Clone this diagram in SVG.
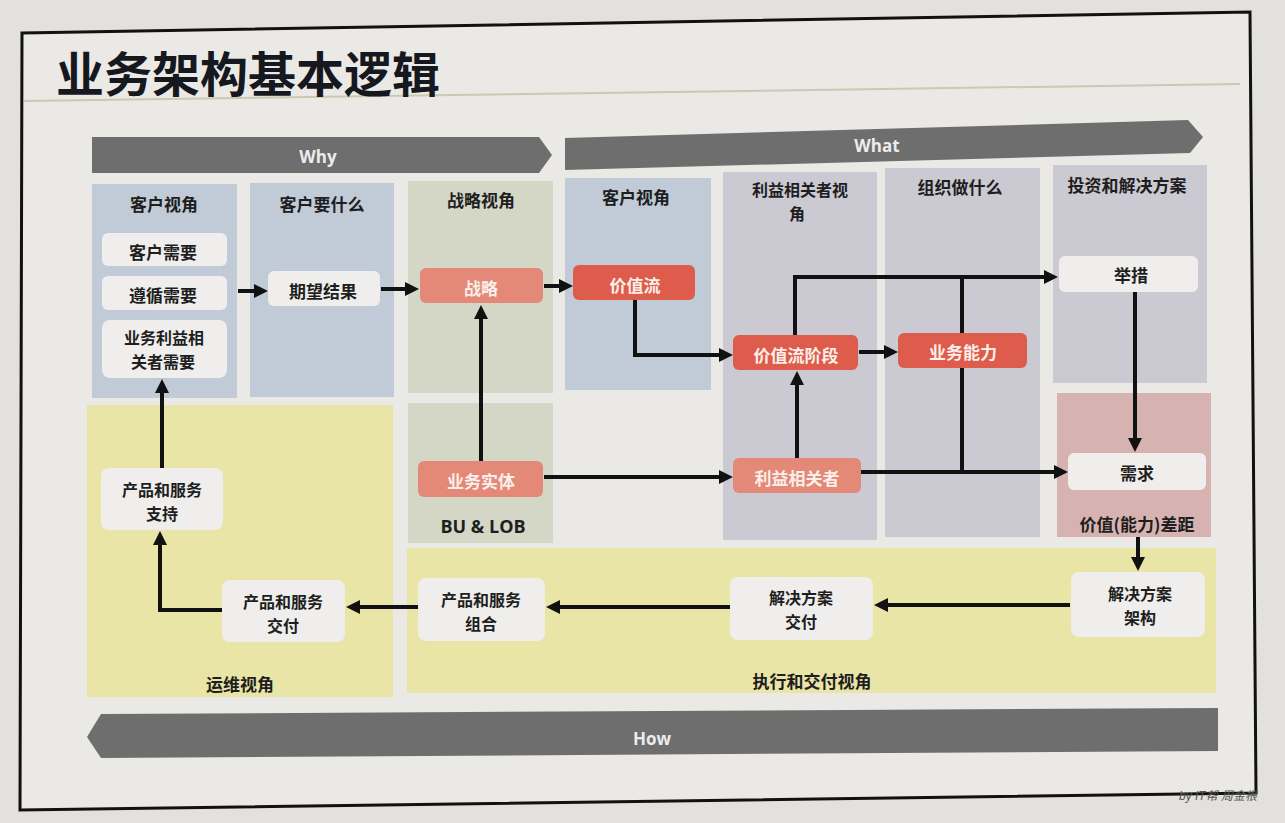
<svg xmlns="http://www.w3.org/2000/svg" width="1285" height="823" viewBox="0 0 1285 823">
<defs>
<style>
text{font-family:"Noto Sans CJK SC","Noto Sans",sans-serif;font-weight:700;text-anchor:middle;dominant-baseline:central}
.hdr{font-size:17px;fill:#1e1e1e}
.lbl{font-size:17px;fill:#1e1e1e}
.two{font-size:16px;fill:#1e1e1e}
.wl{font-size:17px;fill:#fbefe9}
.ban{font-size:17px;fill:#ececec;font-family:"Open Sans","Noto Sans",sans-serif}
.blue{fill:#c0cbd7}
.sage{fill:#d4d7c6}
.lav{fill:#cbc9d1}
.pink{fill:#d6b3b1}
.yel{fill:#e9e5a6}
.wn{fill:#efeeec}
.red{fill:#de5c4b}
.sal{fill:#e48877}
.conn{fill:none;stroke:#111;stroke-width:4;marker-end:url(#ah)}
.plain{fill:none;stroke:#111;stroke-width:4}
</style>
<marker id="ah" markerUnits="userSpaceOnUse" markerWidth="16" markerHeight="16" refX="4" refY="8" orient="auto">
<path d="M0,1 L14,8 L0,15 z" fill="#111"/>
</marker>
</defs>
<rect x="0" y="0" width="1285" height="823" fill="#e3e1de"/>
<path d="M22,33 L1250,12 L1256,793 L20,810 Z" fill="#ebe9e5" stroke="#111" stroke-width="3"/>
<path d="M24,101 L1240,84" stroke="#c9c9b4" stroke-width="2" fill="none"/>
<text x="248" y="71" style="font-size:48px;fill:#161820">业务架构基本逻辑</text>

<g id="banner-why"><polygon points="92,137 539,137 552,155 539,173 92,173" fill="#6e6e6e"/><text class="ban" x="318" y="156">Why</text></g>
<g id="banner-what"><polygon points="565,138 1188,120 1203,137 1190,153 565,170" fill="#6e6e6e"/><text class="ban" x="877" y="145">What</text></g>
<g id="banner-how"><polygon points="87,737 101,714 1218,708 1218,751 101,758" fill="#6e6e6e"/><text class="ban" x="652" y="738">How</text></g>

<g id="col-customer"><rect class="blue" x="92" y="184" width="145" height="214"/><text class="hdr" x="164" y="203">客户视角</text></g>
<g id="col-want"><rect class="blue" x="250" y="183" width="144" height="214"/><text class="hdr" x="322" y="203">客户要什么</text></g>
<g id="col-strategy"><rect class="sage" x="408" y="181" width="145" height="212"/><text class="hdr" x="481" y="199">战略视角</text></g>
<g id="col-bu"><rect class="sage" x="408" y="403" width="145" height="140"/><text x="483" y="526" style="font-size:18px;fill:#1e1e1e;font-family:'Open Sans','Noto Sans',sans-serif">BU &amp; LOB</text></g>
<g id="col-customer2"><rect class="blue" x="565" y="178" width="146" height="212"/><text class="hdr" x="636" y="196">客户视角</text></g>
<g id="col-stake"><rect class="lav" x="723" y="172" width="154" height="368"/><text class="two" x="800" y="189"><tspan x="800">利益相关者视</tspan><tspan x="797" dy="24">角</tspan></text></g>
<g id="col-org"><rect class="lav" x="885" y="168" width="155" height="369"/><text class="hdr" x="960" y="186">组织做什么</text></g>
<g id="col-invest"><rect class="lav" x="1053" y="165" width="154" height="218"/><text class="hdr" x="1127" y="184">投资和解决方案</text></g>
<g id="col-gap"><rect class="pink" x="1057" y="393" width="154" height="144"/><text class="lbl" x="1137" y="523">价值(能力)差距</text></g>
<g id="band-ops"><rect class="yel" x="87" y="405" width="306" height="292"/><text class="lbl" x="240" y="683">运维视角</text></g>
<g id="band-exec"><rect class="yel" x="407" y="548" width="809" height="145"/><text class="lbl" x="812" y="680">执行和交付视角</text></g>

<g id="n-custneed"><rect class="wn" x="102" y="233" width="125" height="33" rx="6"/><text class="lbl" x="163" y="251">客户需要</text></g>
<g id="n-comply"><rect class="wn" x="102" y="276" width="125" height="34" rx="6"/><text class="lbl" x="163" y="294">遵循需要</text></g>
<g id="n-bizstake"><rect class="wn" x="102" y="320" width="125" height="58" rx="8"/><text class="two" x="164" y="337"><tspan x="164">业务利益相</tspan><tspan x="163" dy="24">关者需要</tspan></text></g>
<g id="n-expect"><rect class="wn" x="268" y="271" width="112" height="35" rx="6"/><text class="lbl" x="323" y="290">期望结果</text></g>
<g id="n-strategy"><rect class="sal" x="420" y="268" width="123" height="35" rx="6"/><text class="wl" x="481" y="287">战略</text></g>
<g id="n-entity"><rect class="sal" x="418" y="461" width="125" height="36" rx="6"/><text class="wl" x="481" y="480">业务实体</text></g>
<g id="n-vs"><rect class="red" x="573" y="265" width="122" height="35" rx="6"/><text class="wl" x="635" y="284">价值流</text></g>
<g id="n-vss"><rect class="red" x="733" y="335" width="125" height="35" rx="6"/><text class="wl" x="796" y="354">价值流阶段</text></g>
<g id="n-cap"><rect class="red" x="898" y="333" width="129" height="35" rx="6"/><text class="wl" x="963" y="351">业务能力</text></g>
<g id="n-stakeholder"><rect class="sal" x="733" y="458" width="128" height="35" rx="6"/><text class="wl" x="797" y="477">利益相关者</text></g>
<g id="n-initiative"><rect class="wn" x="1059" y="256" width="139" height="36" rx="6"/><text class="lbl" x="1131" y="274">举措</text></g>
<g id="n-req"><rect class="wn" x="1068" y="453" width="138" height="37" rx="6"/><text class="lbl" x="1137" y="472">需求</text></g>
<g id="n-solarch"><rect class="wn" x="1071" y="572" width="134" height="65" rx="8"/><text class="two" x="1140" y="593"><tspan x="1140">解决方案</tspan><tspan x="1140" dy="24">架构</tspan></text></g>
<g id="n-soldel"><rect class="wn" x="730" y="577" width="143" height="63" rx="8"/><text class="two" x="801" y="597"><tspan x="801">解决方案</tspan><tspan x="801" dy="24">交付</tspan></text></g>
<g id="n-portfolio"><rect class="wn" x="418" y="578" width="127" height="63" rx="8"/><text class="two" x="481" y="599"><tspan x="481">产品和服务</tspan><tspan x="481" dy="24">组合</tspan></text></g>
<g id="n-delivery"><rect class="wn" x="222" y="580" width="123" height="62" rx="8"/><text class="two" x="283" y="601"><tspan x="283">产品和服务</tspan><tspan x="283" dy="24">交付</tspan></text></g>
<g id="n-support"><rect class="wn" x="101" y="468" width="122" height="62" rx="8"/><text class="two" x="162" y="489"><tspan x="162">产品和服务</tspan><tspan x="162" dy="24">支持</tspan></text></g>

<g id="connectors">
<path class="conn" d="M238,291 H258"/>
<path class="conn" d="M381,289 H409"/>
<path class="conn" d="M544,286 H563"/>
<path class="conn" d="M481,461 V315"/>
<path class="conn" d="M544,477 H723"/>
<path class="conn" d="M635,300 V355 H723"/>
<path class="conn" d="M859,352 H888"/>
<path class="conn" d="M797,458 V381"/>
<path class="conn" d="M795,335 V277 H1048"/>
<path class="plain" d="M962,277 V333 M962,368 V472"/>
<path class="conn" d="M861,472 H1058"/>
<path class="conn" d="M1135,292 V442"/>
<path class="conn" d="M1138,537 V561"/>
<path class="conn" d="M1070,605 H884"/>
<path class="conn" d="M730,607 H556"/>
<path class="conn" d="M418,607 H356"/>
<path class="conn" d="M222,610 H160 V541"/>
<path class="conn" d="M162,468 V389"/>
</g>
<text x="1218" y="796" style="font-size:12px;font-weight:400;font-style:italic;fill:#555;font-family:'Liberation Sans','Noto Sans CJK SC',sans-serif">by IT帮 周金根</text>
</svg>
